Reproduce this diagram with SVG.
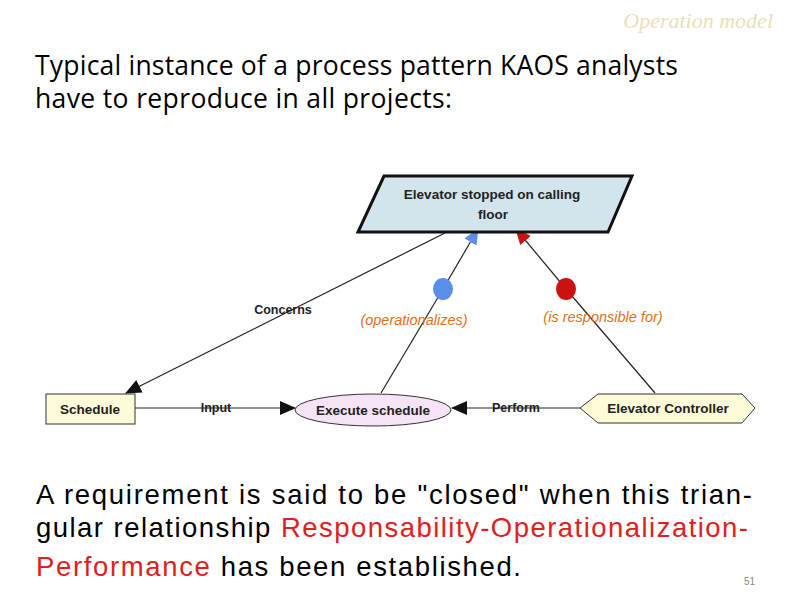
<svg xmlns="http://www.w3.org/2000/svg" width="792" height="612" viewBox="0 0 792 612">
<style>
.n{font-family:"Liberation Sans",Arial,sans-serif;font-size:13.5px;font-weight:bold;fill:#222;text-anchor:middle}
.l{font-family:"Liberation Sans",Arial,sans-serif;font-size:12.5px;font-weight:bold;fill:#222;text-anchor:middle}
.o{font-family:"Liberation Sans",Arial,sans-serif;font-size:14.5px;font-style:italic;fill:#e07020;text-anchor:middle}
.c{stroke:#222;stroke-width:1.2;fill:none}
.b{font-family:"Liberation Sans",Arial,sans-serif;font-size:27.5px;fill:#000}
</style>
<defs>
<marker id="a" markerWidth="16" markerHeight="14" refX="15" refY="7" orient="auto" markerUnits="userSpaceOnUse"><path d="M0,0L16,7L0,14Z" fill="#111"/></marker>
<marker id="bl" markerWidth="16" markerHeight="14" refX="15" refY="7" orient="auto" markerUnits="userSpaceOnUse"><path d="M0,0L16,7L0,14Z" fill="#5b8ee8"/></marker>
<marker id="rd" markerWidth="16" markerHeight="14" refX="15" refY="7" orient="auto" markerUnits="userSpaceOnUse"><path d="M0,0L16,7L0,14Z" fill="#cc1111"/></marker>
</defs>
<rect width="792" height="612" fill="#fff"/>
<text x="773" y="28" text-anchor="end" font-family="Liberation Serif,serif" font-size="22" font-style="italic" fill="#eadfb8">Operation model</text>
<text x="35" y="75" font-family="Open Sans,sans-serif" font-size="26.5" fill="#000" textLength="643" lengthAdjust="spacing">Typical instance of a process pattern KAOS analysts</text>
<text x="35" y="108" font-family="Open Sans,sans-serif" font-size="26.5" fill="#000" textLength="417" lengthAdjust="spacing">have to reproduce in all projects:</text>
<g id="connectors">
<line class="c" x1="445" y1="233" x2="126" y2="393" marker-end="url(#a)"/>
<line class="c" x1="381" y1="393" x2="443" y2="289"/>
<line class="c" x1="443" y1="289" x2="478" y2="229" marker-end="url(#bl)"/>
<line class="c" x1="655" y1="393" x2="566" y2="289"/>
<line class="c" x1="566" y1="289" x2="516" y2="229" marker-end="url(#rd)"/>
<line class="c" x1="135" y1="408" x2="295" y2="408" marker-end="url(#a)"/>
<line class="c" x1="580" y1="408" x2="452" y2="408" marker-end="url(#a)"/>
<ellipse cx="443" cy="289" rx="10" ry="11" fill="#5b8ee8"/>
<ellipse cx="566" cy="289" rx="10" ry="11" fill="#cc1111"/>
<text class="l" x="283" y="314">Concerns</text>
<text class="l" x="216" y="412">Input</text>
<text class="l" x="516" y="412">Perform</text>
<text class="o" x="414" y="325">(operationalizes)</text>
<text class="o" x="603" y="322">(is responsible for)</text>
</g>
<g id="goal"><polygon points="384,176 632,176 608,232 358,232" fill="#d4e4ec" stroke="#111" stroke-width="3"/>
<text class="n" x="492" y="199">Elevator stopped on calling</text><text class="n" x="493" y="219">floor</text></g>
<g id="schedule"><rect x="46" y="394" width="89" height="30" fill="#fdfbd8" stroke="#333"/><text class="n" x="90" y="414">Schedule</text></g>
<g id="execute"><ellipse cx="373" cy="410" rx="78" ry="16" fill="#f6e4f6" stroke="#333"/><text class="n" x="373" y="415">Execute schedule</text></g>
<g id="controller"><polygon points="580,408 598,394 742,394 755,408 742,423 598,423" fill="#fdfbd8" stroke="#333"/><text class="n" x="668" y="413">Elevator Controller</text></g>
<text class="b" x="36" y="504" textLength="716" lengthAdjust="spacing">A requirement is said to be "closed" when this trian-</text>
<text class="b" x="36" y="537" textLength="712" lengthAdjust="spacing">gular relationship <tspan fill="#e02020">Responsability-Operationalization-</tspan></text>
<text class="b" x="36" y="576" textLength="485" lengthAdjust="spacing"><tspan fill="#e02020">Performance</tspan> has been established.</text>
<text x="744" y="585" font-family="Liberation Sans,sans-serif" font-size="10" fill="#888">51</text>
</svg>
